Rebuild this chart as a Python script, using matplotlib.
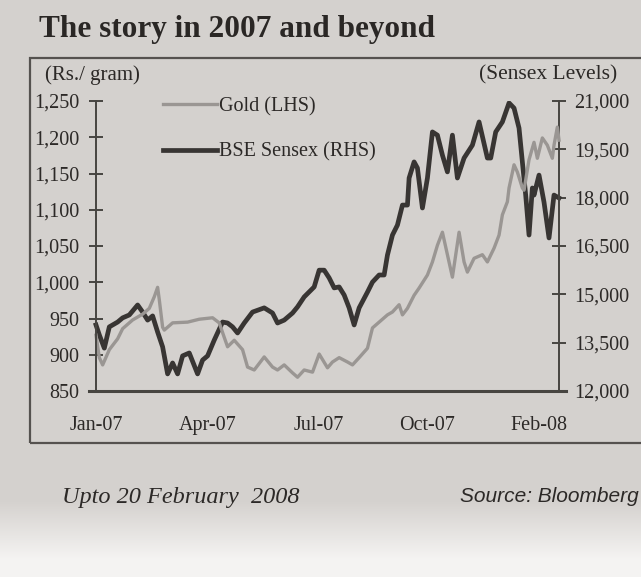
import matplotlib
matplotlib.use("Agg")
import matplotlib.pyplot as plt
from matplotlib.patches import Rectangle
import numpy as np

# trading-session index (0 = first session of Jan-07, 278 = 20 Feb 2008)
gold_x = [0, 2, 4, 8, 13, 16, 22, 28, 32, 35, 37, 38, 40, 41, 46, 55, 62, 70, 74, 77,
          79, 83, 88, 91, 95, 101, 106, 109, 113, 118, 121, 125, 130, 134, 139, 142, 146,
          151, 154, 158, 163, 166, 170, 175, 178, 182, 184, 187, 191, 194, 199, 202, 205,
          208, 211, 214, 218, 221, 223, 227, 232, 235, 239, 242, 244, 247, 248, 251, 253,
          256, 257, 260, 263, 265, 268, 271, 274, 275, 277, 278]
gold_rs = [927, 896, 886, 907, 922, 936, 948, 956, 964, 980, 993, 976, 938, 934, 944, 945,
           949, 951, 944, 924, 911, 920, 907, 883, 879, 897, 883, 879, 886, 875, 869, 879,
           876, 901, 882, 890, 896, 890, 886, 896, 909, 937, 945, 955, 959, 969, 955, 964,
           982, 992, 1010, 1028, 1051, 1069, 1038, 1007, 1069, 1028, 1014, 1033, 1038, 1028,
           1047, 1065, 1093, 1111, 1130, 1162, 1152, 1130, 1127, 1169, 1193, 1171, 1199,
           1189, 1171, 1189, 1214, 1196]

sensex_x = [0, 2, 5, 8, 13, 16, 20, 25, 28, 31, 34, 37, 40, 43, 46, 49, 52, 56, 61, 64,
            67, 71, 76, 79, 82, 85, 89, 94, 101, 106, 109, 113, 118, 121, 125, 131, 134,
            137, 140, 143, 146, 149, 152, 155, 158, 163, 166, 170, 173, 175, 178, 181, 184,
            187, 188, 191, 193, 196, 199, 202, 205, 208, 211, 214, 217, 221, 226, 230, 235,
            237, 240, 244, 248, 251, 254, 256, 258, 260, 262, 263, 266, 269, 272, 275, 278]
sensex_level = [14050, 13740, 13330, 13990, 14140, 14270, 14360, 14670, 14450, 14200, 14330,
                13830, 13370, 12530, 12870, 12530, 13090, 13180, 12530, 12960, 13090, 13580,
                14140, 14110, 13990, 13800, 14110, 14450, 14580, 14420, 14110, 14200, 14420,
                14610, 14920, 15230, 15750, 15750, 15510, 15200, 15230, 14980, 14580, 14050,
                14580, 15070, 15380, 15600, 15600, 16220, 16840, 17150, 17770, 17770, 18610,
                19110, 18920, 17680, 18610, 20040, 19940, 19320, 18800, 19940, 18610, 19230,
                19630, 20350, 19230, 19230, 20040, 20350, 20940, 20780, 20160, 19110, 18080,
                16840, 18300, 18080, 18700, 17860, 16750, 18080, 17990]

month_pos = [0, 67, 134, 199, 266]
month_labels = ["Jan-07", "Apr-07", "Jul-07", "Oct-07", "Feb-08"]
gold_ticks = [850, 900, 950, 1000, 1050, 1100, 1150, 1200, 1250]
sensex_ticks = [12000, 13500, 15000, 16500, 18000, 19500, 21000]

W, H = 641, 577
ink = "#2c2927"
axis_col = "#474541"
serif = ["Liberation Serif", "DejaVu Serif"]
plt.rcParams["font.family"] = serif

fig = plt.figure(figsize=(W / 100, H / 100), dpi=100)

# paper background, fading to white near the bottom
bg = fig.add_axes([0, 0, 1, 1], zorder=-10)
rows = np.linspace(0, 1, H)
shade = np.where(rows < 0.87, 0.0, np.clip((rows - 0.87) / 0.1, 0, 1))
top_c = np.array([0.835, 0.822, 0.810])
low_c = np.array([0.96, 0.955, 0.95])
img = top_c[None, :] * (1 - shade[:, None]) + low_c[None, :] * shade[:, None]
bg.imshow(img[:, None, :], aspect="auto", extent=[0, 1, 0, 1], origin="upper")
bg.set_xlim(0, 1)
bg.set_ylim(0, 1)
bg.axis("off")

# frame around the chart
fig.patches.append(Rectangle((30 / W, 1 - 443 / H), 620 / W, 385 / H,
                             transform=fig.transFigure, fill=False,
                             edgecolor="#55524f", linewidth=1.6))

fig.text(39 / W, 1 - 29 / H, "The story in 2007 and beyond", fontsize=22.5,
         fontweight="bold", color="#2a2725", va="center", ha="left")

px_l, px_r = 89, 566
ax = fig.add_axes([px_l / W, 1 - 391 / H, (px_r - px_l) / W, 290 / H])
ax.patch.set_alpha(0)
ax2 = ax.twinx()

g_line, = ax.plot(gold_x, gold_rs, color="#9a9693", linewidth=2.4,
                  solid_joinstyle="round", label="Gold (LHS)")
s_line, = ax2.plot(sensex_x, sensex_level, color="#383533", linewidth=3.4,
                   solid_joinstyle="round", label="BSE Sensex (RHS)")
ax.set_zorder(ax2.get_zorder() + 1)

ax.set_xlim(-4.2, 282.2)
ax.set_ylim(850, 1250)
ax2.set_ylim(12000, 21000)

for a in (ax, ax2):
    a.spines["top"].set_visible(False)
ax.spines["right"].set_visible(False)
ax2.spines["left"].set_visible(False)
ax2.spines["bottom"].set_visible(False)
ax.spines["left"].set_position(("data", 0))
ax2.spines["right"].set_position(("data", 278))
ax.spines["left"].set_color(axis_col)
ax.spines["left"].set_linewidth(1.4)
ax2.spines["right"].set_color(axis_col)
ax2.spines["right"].set_linewidth(1.4)
ax.spines["bottom"].set_color(axis_col)
ax.spines["bottom"].set_linewidth(2.2)

ax.set_yticks(gold_ticks)
ax.set_yticklabels([f"{v:,}" for v in gold_ticks])
ax2.set_yticks(sensex_ticks)
ax2.set_yticklabels([f"{v:,}" for v in sensex_ticks])
ax.set_xticks(month_pos)
ax.set_xticklabels(month_labels)

ax.tick_params(axis="y", direction="inout", length=10, width=1.4, color=axis_col,
               labelsize=14.5, labelcolor=ink, pad=7)
ax2.tick_params(axis="y", direction="inout", length=10, width=1.4, color=axis_col,
                labelsize=14.5, labelcolor=ink, pad=6)
ax.tick_params(axis="x", length=0, labelsize=14.5, labelcolor=ink, pad=18)

fig.text(45 / W, 1 - 75 / H, "(Rs./ gram)", fontsize=15, color=ink,
         va="center", ha="left")
fig.text(617 / W, 1 - 75 / H, "(Sensex Levels)", fontsize=15.5, color=ink,
         va="center", ha="right")

ax.legend(handles=[g_line, s_line], loc="upper left",
          bbox_to_anchor=((163 - px_l) / (px_r - px_l), 1.013),
          frameon=False, fontsize=14.5, handlelength=2.7, handletextpad=0.1,
          labelspacing=1.3, borderpad=0, borderaxespad=0, labelcolor=ink)

fig.text(62 / W, 1 - 497 / H, "Upto 20 February  2008", fontsize=17.5, color=ink,
         style="italic", va="center", ha="left")
fig.text(460 / W, 1 - 497 / H, "Source: Bloomberg", fontsize=15, color=ink,
         style="italic", family=["Liberation Sans", "DejaVu Sans"],
         va="center", ha="left")

fig.savefig("out.png", dpi=100)
